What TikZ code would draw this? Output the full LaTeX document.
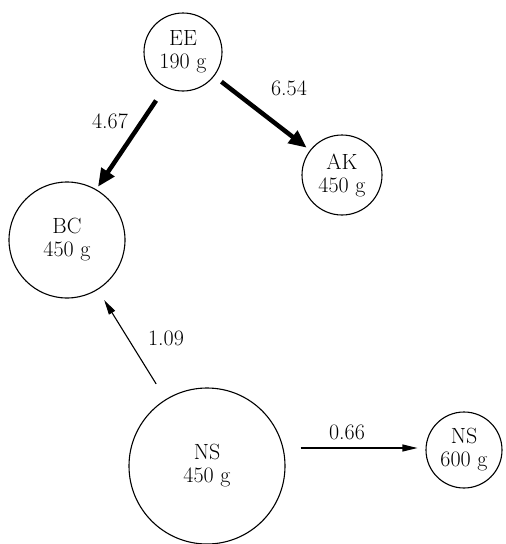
\documentclass[tikz,border=0pt]{standalone}
\usepackage{fontspec}
\usepackage{tikz}
\usetikzlibrary{arrows.meta,positioning}

\tikzset{
  sample/.style={draw, circle, line width=1.1pt, align=center, inner sep=0pt,
    font=\fontsize{22}{23}\selectfont},
  rate/.style={font=\fontsize{22}{23}\selectfont},
  heavy/.style={line width=4.5pt, -{Triangle[length=18pt,width=15pt]}},
  light/.style={line width=1.1pt, -{Triangle[length=15pt,width=7pt]}}
}

\begin{document}
\begin{tikzpicture}[x=1pt, y=-1pt]
  \useasboundingbox (0,0) rectangle (506,544);

  % samples
  \node[sample, minimum size=78pt] (ee) at (183,52) {EE\\190 g};
  \node[sample, minimum size=80pt] (ak) at (342,175) {AK\\450 g};
  \node[sample, minimum size=116pt] (bc) at (67,240) {BC\\450 g};
  \node[sample, minimum size=156pt] (nsa) at (207,466) {NS\\450 g};
  \node[sample, minimum size=76pt] (nsb) at (464,450) {NS\\600 g};

  % transfers
  \draw[heavy, shorten <=9pt, shorten >=4pt] (ee) -- (ak);
  \draw[heavy, shorten <=16pt, shorten >=3pt] (ee.-117) -- (bc.60);
  \draw[light, shorten <=18pt, shorten >=12pt] (nsa) -- (bc);
  \draw[light, shorten <=15pt, shorten >=8pt] ([yshift=18pt]nsa.east) -- ([yshift=2pt]nsb.west);

  % rates
  \node[rate] (r654) at (289,88) {6.54};
  \node[rate] (r467) at (110,121) {4.67};
  \node[rate] (r109) at (166,338) {1.09};
  \node[rate] (r066) at (347,432) {0.66};
\end{tikzpicture}
\end{document}
